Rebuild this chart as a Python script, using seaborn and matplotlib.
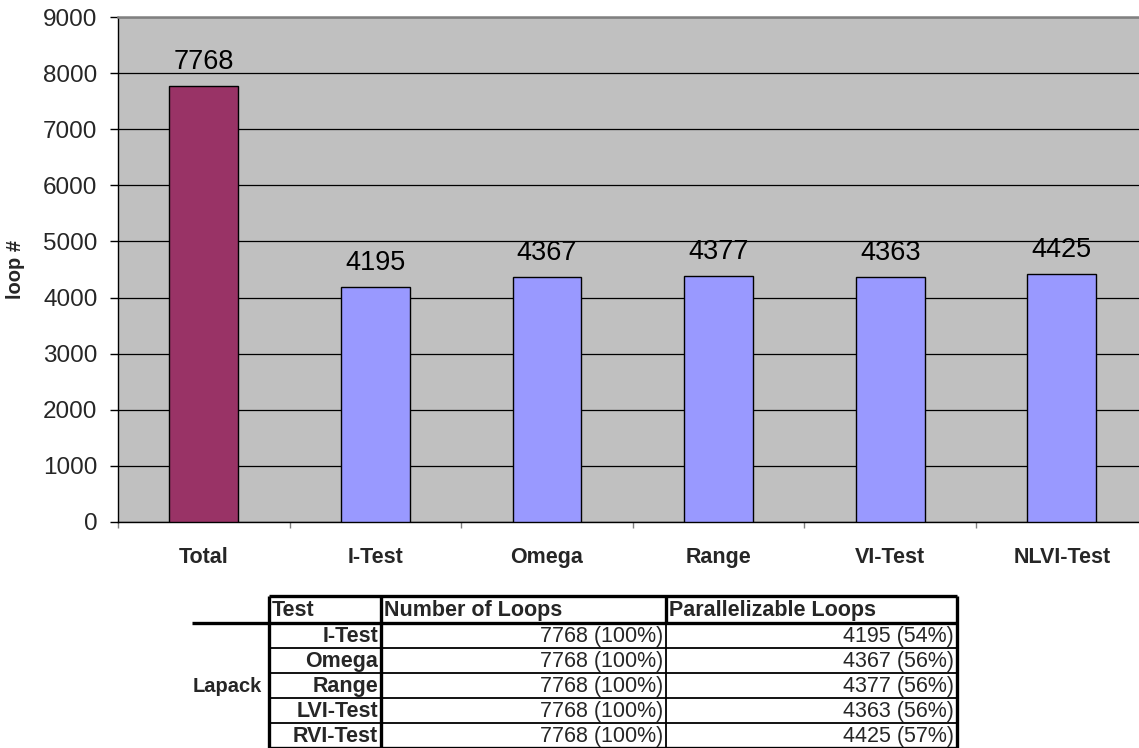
import matplotlib
matplotlib.use("Agg")
import matplotlib.pyplot as plt
import seaborn as sns
import pandas as pd

# ---- chart data ----
categories = ["Total", "I-Test", "Omega", "Range", "VI-Test", "NLVI-Test"]
loop_counts = [7768, 4195, 4367, 4377, 4363, 4425]
bar_colors = ["#993366", "#9999FF", "#9999FF", "#9999FF", "#9999FF", "#9999FF"]
y_ticks = [0, 1000, 2000, 3000, 4000, 5000, 6000, 7000, 8000, 9000]

# ---- summary table data ----
suite_name = "Lapack"
table_headers = ["Test", "Number of Loops", "Parallelizable Loops"]
table_tests = ["I-Test", "Omega", "Range", "LVI-Test", "RVI-Test"]
total_loops = [7768, 7768, 7768, 7768, 7768]
parallel_loops = [4195, 4367, 4377, 4363, 4425]

sns.set_theme(style="white")
plt.rcParams["font.family"] = ["Liberation Sans", "DejaVu Sans"]

W, H = 1139, 748
fig = plt.figure(figsize=(W / 100, H / 100), dpi=100)


def px_box(left, top, right, bottom):
    return [left / W, 1 - bottom / H, (right - left) / W, (bottom - top) / H]


ax = fig.add_axes(px_box(118, 17, 1147.6, 522))
df = pd.DataFrame({"test": categories, "loops": loop_counts})
sns.barplot(data=df, x="test", y="loops", hue="test", palette=bar_colors,
            legend=False, width=0.402, edgecolor="black", linewidth=1.0,
            saturation=1, ax=ax, zorder=3)

ax.set_facecolor("#C0C0C0")
ax.set_xlim(-0.5, len(categories) - 0.5)
ax.set_ylim(0, 9000)
ax.set_yticks(y_ticks)
ax.yaxis.grid(True, color="black", linewidth=0.9)
ax.xaxis.grid(False)
ax.set_axisbelow(True)

for side in ("left", "bottom"):
    ax.spines[side].set_color("black")
    ax.spines[side].set_linewidth(1.0)
ax.spines["top"].set_color("#808080")
ax.spines["top"].set_linewidth(1.8)
ax.spines["right"].set_visible(False)

ax.tick_params(axis="y", which="major", direction="out", length=5.8, width=1,
               color="black", pad=9, labelsize=17.5, left=True)
ax.set_xticks(range(len(categories)))
ax.set_xticklabels(categories, fontweight="bold", fontsize=15.5)
ax.tick_params(axis="x", which="major", length=0, pad=18)
ax.set_xticks([i - 0.5 for i in range(len(categories) + 1)], minor=True)
ax.tick_params(axis="x", which="minor", direction="out", length=4.3, width=1,
               color="#808080", bottom=True)

ax.set_xlabel("")
ax.set_ylabel("loop #", fontweight="bold", fontsize=14.5)
ax.yaxis.set_label_coords(-0.09, 0.5)

for i, value in enumerate(loop_counts):
    ax.annotate(f"{value}", (i, value), xytext=(0, 8), textcoords="offset points",
                ha="center", va="bottom", fontsize=19.5, color="black")

# ---- summary table drawn in pixel space ----
tax = fig.add_axes([0, 0, 1, 1])
tax.set_xlim(0, W)
tax.set_ylim(H, 0)
tax.axis("off")

col_x = [190, 269, 381, 666, 957]
head_top, head_bot, row_h = 596, 623, 25
row_bottoms = [head_bot + row_h * (k + 1) for k in range(len(table_tests))]
table_bottom = row_bottoms[-1]
thick, thin = 2.4, 1.3

tax.hlines(head_top, col_x[1], col_x[4], color="black", lw=thick)
tax.hlines(head_bot, col_x[0] + 2, col_x[4], color="black", lw=thick)
for yb in row_bottoms[:-1]:
    tax.hlines(yb, col_x[1], col_x[4], color="black", lw=thin)
tax.hlines(table_bottom, col_x[1], col_x[4], color="black", lw=thick)
tax.vlines(col_x[1], head_top, table_bottom, color="black", lw=thick)
tax.vlines(col_x[2], head_top, table_bottom, color="black", lw=thick)
tax.vlines(col_x[3], head_top, head_bot, color="black", lw=thick)
tax.vlines(col_x[3], head_bot, table_bottom, color="black", lw=thin)
tax.vlines(col_x[4], head_top, table_bottom, color="black", lw=thick)

tfs = 15.5
head_mid = (head_top + head_bot) / 2
for k, header in enumerate(table_headers):
    tax.text(col_x[k + 1] + 3, head_mid + 1, header, ha="left", va="center",
             fontsize=tfs, fontweight="bold")

for k, test in enumerate(table_tests):
    y_mid = head_bot + row_h * k + row_h / 2 + 1
    n_all = total_loops[k]
    n_par = parallel_loops[k]
    tax.text(col_x[2] - 3, y_mid, test, ha="right", va="center",
             fontsize=tfs, fontweight="bold")
    tax.text(col_x[3] - 3, y_mid, f"{n_all} ({round(100 * n_all / total_loops[k])}%)",
             ha="right", va="center", fontsize=tfs)
    tax.text(col_x[4] - 3, y_mid, f"{n_par} ({round(100 * n_par / n_all)}%)",
             ha="right", va="center", fontsize=tfs)

lapack_mid = head_bot + row_h * len(table_tests) / 2 + 1
tax.text(col_x[0] + 3, lapack_mid, suite_name, ha="left",
         va="center", fontsize=14.5, fontweight="bold")

fig.savefig("out.png", dpi=100)
